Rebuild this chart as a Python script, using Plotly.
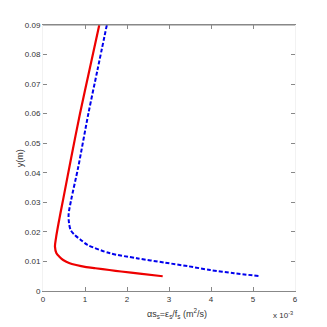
import plotly.graph_objects as go

# values; x in units of 1e-3 m^2/s, y in m
red_y = [0.09, 0.075, 0.06, 0.045, 0.031, 0.0263, 0.0229, 0.018, 0.015, 0.0128, 0.0116, 0.0105, 0.0095, 0.0088, 0.0081, 0.0077, 0.0071, 0.0066, 0.0059, 0.0050]
red_x = [1.34, 1.11, 0.88, 0.67, 0.48, 0.415, 0.37, 0.31, 0.285, 0.32, 0.39, 0.48, 0.62, 0.79, 1.03, 1.25, 1.58, 1.86, 2.30, 2.85]

blue_y = [0.09, 0.075, 0.06, 0.042, 0.0308, 0.026, 0.0229, 0.0206, 0.0189, 0.0175, 0.0156, 0.01275, 0.0111, 0.0096, 0.0084, 0.0071, 0.006, 0.0051]
blue_x = [1.52, 1.30, 1.08, 0.84, 0.67, 0.61, 0.62, 0.66, 0.76, 0.88, 1.06, 1.60, 2.23, 2.90, 3.45, 3.98, 4.55, 5.13]

x_ticks = [0, 1, 2, 3, 4, 5, 6]
y_ticks = [0, 0.01, 0.02, 0.03, 0.04, 0.05, 0.06, 0.07, 0.08, 0.09]
y_ticktext = ["0", "0.01", "0.02", "0.03", "0.04", "0.05", "0.06", "0.07", "0.08", "0.09"]

fig = go.Figure()
fig.add_trace(go.Scatter(x=blue_x, y=blue_y, mode="lines",
                         line=dict(color="#0000ee", width=2, dash="4px,2px", shape="spline", smoothing=0.8)))
fig.add_trace(go.Scatter(x=red_x, y=red_y, mode="lines",
                         line=dict(color="#ee0000", width=2.2, shape="spline", smoothing=0.8)))

font = dict(family="Liberation Sans, Arial, sans-serif", size=8, color="#333333")
fig.update_layout(
    width=327, height=327,
    margin=dict(l=43, r=32, t=25, b=36),
    paper_bgcolor="white", plot_bgcolor="white",
    showlegend=False,
    font=font,
    xaxis=dict(range=[0, 6], tickvals=x_ticks, ticks="inside", ticklen=4, tickcolor="#888888",
               showline=True, linecolor="#888888", linewidth=1, mirror="allticks",
               showgrid=False, zeroline=False, tickfont=font),
    yaxis=dict(range=[0, 0.09], tickvals=y_ticks, ticktext=y_ticktext, ticks="inside", ticklen=4,
               tickcolor="#888888", showline=True, linecolor="#f2f2f2", linewidth=1, mirror="allticks",
               showgrid=False, zeroline=False, tickfont=font),
    annotations=[
        dict(text="αs<sub>s</sub>=ε<sub>s</sub>/f<sub>s</sub> (m<sup>2</sup>/s)", xref="paper", yref="paper",
             x=0.53, y=-0.085, xanchor="center", yanchor="middle", showarrow=False,
             font=dict(family="Liberation Sans, Arial, sans-serif", size=9, color="#333333")),
        dict(text="x 10<sup>-3</sup>", xref="paper", yref="paper", x=1.0, y=-0.09,
             xanchor="right", yanchor="middle", showarrow=False, font=font),
        dict(text="y(m)", xref="paper", yref="paper", x=-0.09, y=0.5, textangle=-90,
             xanchor="center", yanchor="middle", showarrow=False,
             font=dict(family="Liberation Sans, Arial, sans-serif", size=9, color="#333333")),
    ],
)
# top axis line in gray
fig.add_shape(type="line", xref="paper", yref="paper", x0=0, x1=1, y0=1, y1=1, line=dict(color="#888888", width=1))

fig.write_html("out.html", config={"displayModeBar": False},
               post_script="document.body.style.margin='0';document.body.style.overflow='hidden';")
